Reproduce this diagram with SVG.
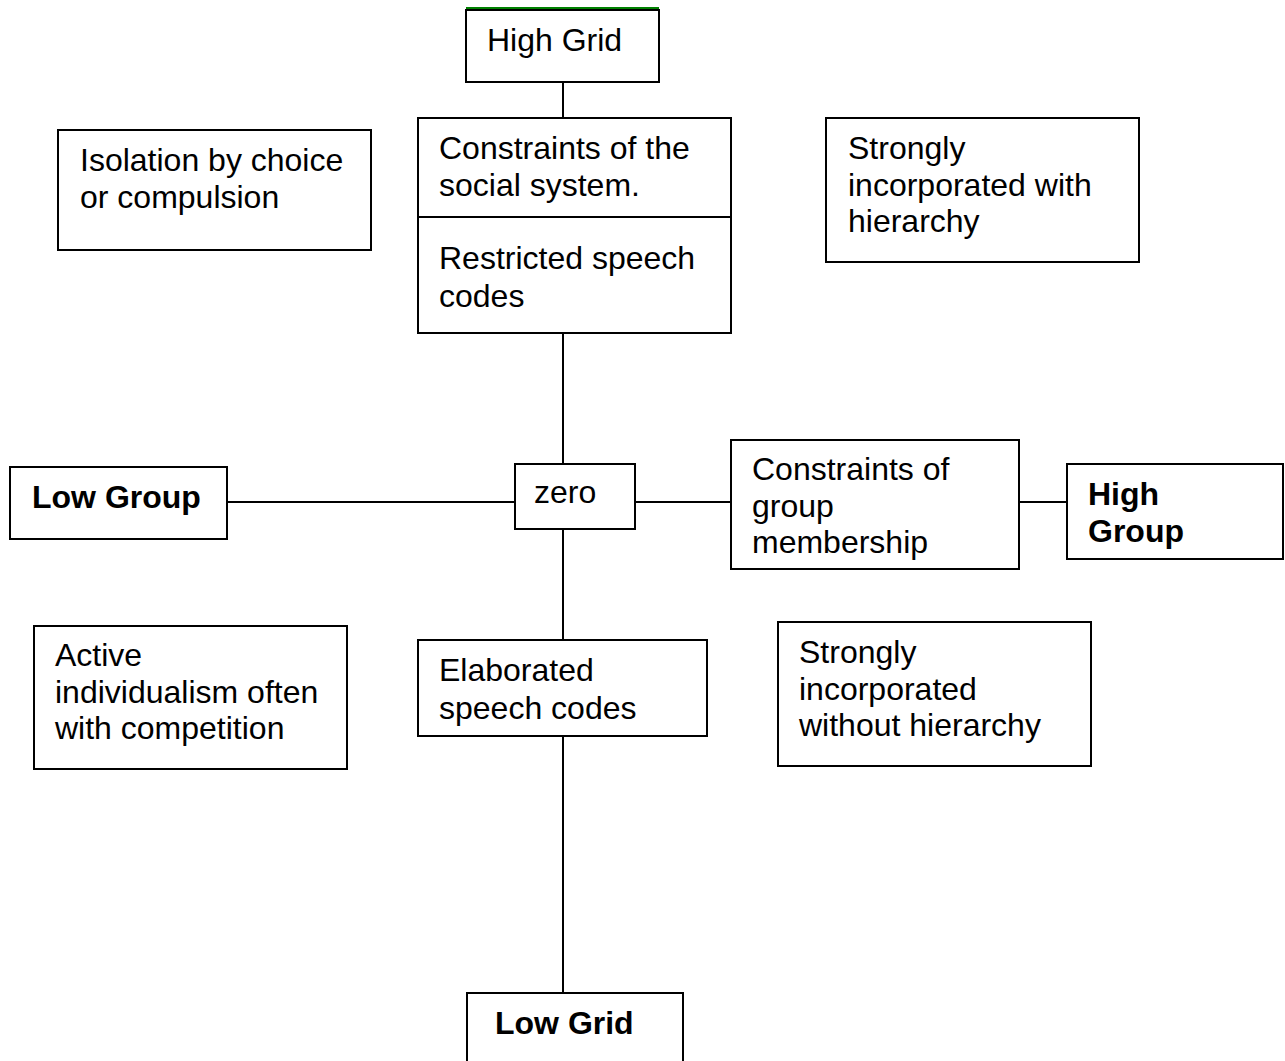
<svg xmlns="http://www.w3.org/2000/svg" width="1285" height="1061" viewBox="0 0 1285 1061">
<style>
.box{fill:#fff;stroke:#000;stroke-width:2}
.t{font-family:"Liberation Sans",Arial,sans-serif;font-size:32px;fill:#000}
.b{font-weight:bold}
.c{stroke:#000;stroke-width:2;fill:none}
</style>
<rect width="1285" height="1061" fill="#fff"/>
<g id="connectors">
<line class="c" x1="563" y1="82" x2="563" y2="118"/>
<line class="c" x1="563" y1="333" x2="563" y2="464"/>
<line class="c" x1="563" y1="529" x2="563" y2="640"/>
<line class="c" x1="563" y1="736" x2="563" y2="993"/>
<line class="c" x1="227" y1="502" x2="515" y2="502"/>
<line class="c" x1="635" y1="502" x2="731" y2="502"/>
<line class="c" x1="1019" y1="502" x2="1067" y2="502"/>
</g>
<g id="high-grid">
<line x1="466" y1="8" x2="659" y2="8" stroke="#008000" stroke-width="2"/>
<rect class="box" x="466" y="10" width="193" height="72"/>
<text class="t" x="487" y="51">High Grid</text>
</g>
<g id="social-system">
<rect class="box" x="418" y="118" width="313" height="215"/>
<line class="c" x1="418" y1="217" x2="731" y2="217"/>
<text class="t" x="439" y="159">Constraints of the</text>
<text class="t" x="439" y="196">social system.</text>
<text class="t" x="439" y="269">Restricted speech</text>
<text class="t" x="439" y="307">codes</text>
</g>
<g id="isolation">
<rect class="box" x="58" y="130" width="313" height="120"/>
<text class="t" x="80" y="171">Isolation by choice</text>
<text class="t" x="80" y="208">or compulsion</text>
</g>
<g id="with-hierarchy">
<rect class="box" x="826" y="118" width="313" height="144"/>
<text class="t" x="848" y="159">Strongly</text>
<text class="t" x="848" y="196">incorporated with</text>
<text class="t" x="848" y="232">hierarchy</text>
</g>
<g id="low-group">
<rect class="box" x="10" y="467" width="217" height="72"/>
<text class="t b" x="32" y="508">Low Group</text>
</g>
<g id="zero">
<rect class="box" x="515" y="464" width="120" height="65"/>
<text class="t" x="534" y="503">zero</text>
</g>
<g id="group-membership">
<rect class="box" x="731" y="440" width="288" height="129"/>
<text class="t" x="752" y="480">Constraints of</text>
<text class="t" x="752" y="517">group</text>
<text class="t" x="752" y="553">membership</text>
</g>
<g id="high-group">
<rect class="box" x="1067" y="464" width="216" height="95"/>
<text class="t b" x="1088" y="505">High</text>
<text class="t b" x="1088" y="542">Group</text>
</g>
<g id="active">
<rect class="box" x="34" y="626" width="313" height="143"/>
<text class="t" x="55" y="666">Active</text>
<text class="t" x="55" y="703">individualism often</text>
<text class="t" x="55" y="739">with competition</text>
</g>
<g id="elaborated">
<rect class="box" x="418" y="640" width="289" height="96"/>
<text class="t" x="439" y="681">Elaborated</text>
<text class="t" x="439" y="719">speech codes</text>
</g>
<g id="without-hierarchy">
<rect class="box" x="778" y="622" width="313" height="144"/>
<text class="t" x="799" y="663">Strongly</text>
<text class="t" x="799" y="700">incorporated</text>
<text class="t" x="799" y="736">without hierarchy</text>
</g>
<g id="low-grid">
<rect class="box" x="467" y="993" width="216" height="80"/>
<text class="t b" x="495" y="1034">Low Grid</text>
</g>
</svg>
